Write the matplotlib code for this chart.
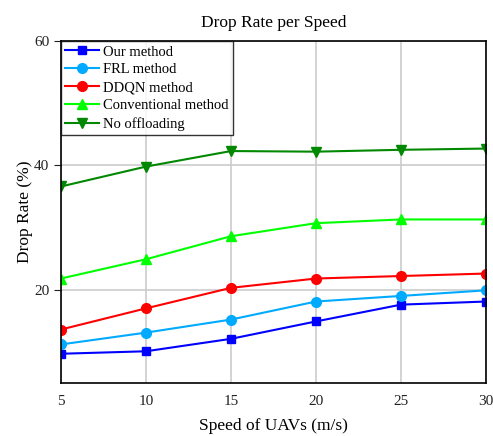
import matplotlib.pyplot as plt

speeds = [5, 10, 15, 20, 25, 30]
our_method = [9.7, 10.1, 12.1, 14.9, 17.6, 18.1]
frl_method = [11.2, 13.1, 15.2, 18.1, 19.0, 19.9]
ddqn_method = [13.6, 17.0, 20.3, 21.8, 22.2, 22.6]
conventional = [21.8, 24.9, 28.6, 30.7, 31.3, 31.3]
no_offloading = [36.6, 39.8, 42.3, 42.2, 42.5, 42.7]

plt.rcParams['font.family'] = ['Liberation Serif', 'DejaVu Serif']

fig = plt.figure(figsize=(4.93, 4.36), dpi=100)
ax = fig.add_axes([0.1237, 0.1216, 0.8621, 0.7844])

ax.plot(speeds, our_method, color='#0000ff', marker='s', markersize=6, lw=1.5, label='Our method')
ax.plot(speeds, frl_method, color='#00aaff', marker='o', markersize=7, lw=1.5, label='FRL method')
ax.plot(speeds, ddqn_method, color='#ff0000', marker='o', markersize=7, lw=1.5, label='DDQN method')
ax.plot(speeds, conventional, color='#00ff00', marker='^', markersize=7, lw=1.5, label='Conventional method')
ax.plot(speeds, no_offloading, color='#008800', marker='v', markersize=7, lw=1.5, label='No offloading')

ax.set_xlim(5, 30)
ax.set_ylim(5, 60)
ax.set_xticks(speeds)
ax.set_yticks([20, 40, 60])
ax.grid(True, color='#cccccc', lw=1.2)
ax.set_axisbelow(True)
ax.tick_params(labelsize=11, colors='#222222', length=5)
ax.tick_params(axis='x', length=0, pad=9)
for s in ax.spines.values():
    s.set_linewidth(1.2)

ax.set_title('Drop Rate per Speed', fontsize=12.5, pad=10)
ax.set_xlabel('Speed of UAVs (m/s)', fontsize=12.5, labelpad=7)
ax.set_ylabel('Drop Rate (%)', fontsize=12.5, labelpad=1)

leg = ax.legend(loc='upper left', fontsize=10.5, frameon=True, fancybox=False,
                edgecolor='black', borderaxespad=0, handlelength=2.3,
                labelspacing=0.32, borderpad=0.3, handletextpad=0.3)
leg.get_frame().set_linewidth(1.0)

fig.savefig('out.png', dpi=100)
